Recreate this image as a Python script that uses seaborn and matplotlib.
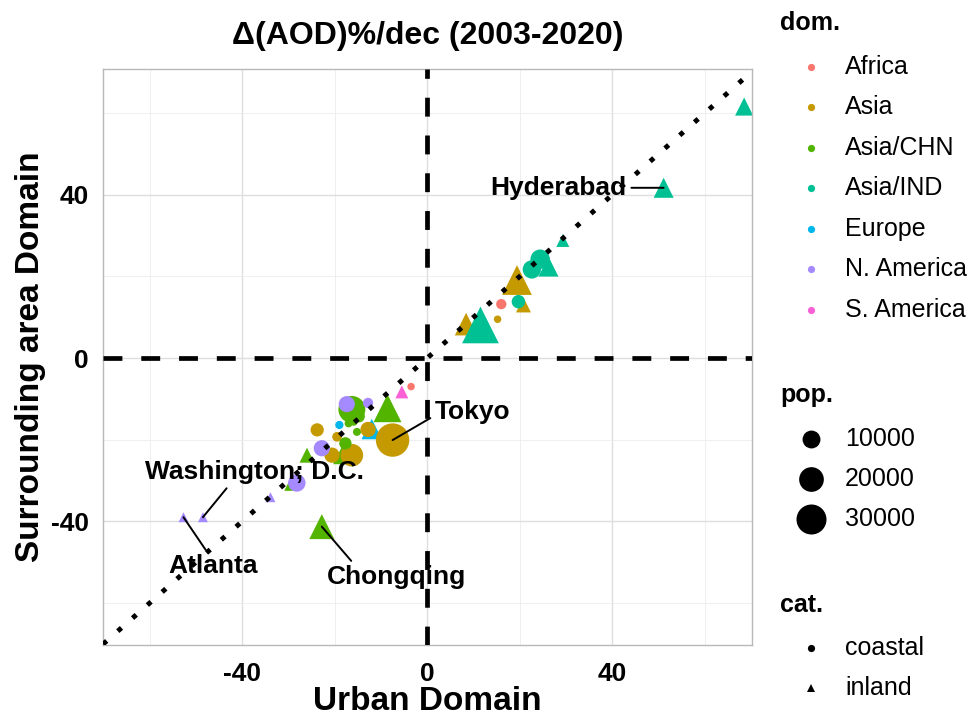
import numpy as np
import pandas as pd
import matplotlib
matplotlib.use("Agg")
import matplotlib.pyplot as plt
import seaborn as sns
from matplotlib.lines import Line2D

# ---------------- data ----------------
# coastal cities (circles)
c_urban = [-16.3, -20.6, -22.8, -23.8, -16.3, -17.4, -12.8, -14.8, -19.0, -17.0,
           -15.9, -15.2, -12.8, -19.5, -17.7, -7.5, -3.5, -28.2, 24.4, 22.6,
           19.7, 16.0, 15.2]
c_surr = [-23.8, -23.8, -22.1, -17.6, -12.6, -11.3, -11.0, -14.3, -16.4, -16.0,
          -15.6, -18.1, -17.5, -19.3, -20.9, -20.1, -7.0, -30.6, 24.2, 21.7,
          13.8, 13.2, 9.5]
c_dom = ["Asia", "Asia", "N. America", "Asia", "Asia/CHN", "N. America", "N. America",
         "Asia/CHN", "Europe", "Asia/CHN", "Asia/CHN", "Asia/CHN", "Asia", "Asia",
         "Asia/CHN", "Asia", "Africa", "N. America", "Asia/IND", "Asia/IND",
         "Asia/IND", "Africa", "Asia"]
c_pop = [16500, 7000, 8000, 5000, 24000, 8000, 2600, 4000, 1300, 1200,
         1200, 1200, 7000, 2200, 4200, 37400, 900, 9500, 12000, 10500,
         5200, 2600, 900]
c_city = ["", "", "", "", "", "", "", "", "", "", "", "", "", "", "", "Tokyo",
          "", "", "", "", "", "", ""]

# inland cities (triangles)
t_urban = [8.4, 11.5, 19.4, 20.8, 26.2, 29.3, 51.1, 68.5, -5.5, -8.6,
           -12.0, -18.4, -26.0, -29.3, -33.9, -48.5, -52.7, -22.8]
t_surr = [8.3, 8.1, 19.1, 13.0, 22.4, 28.8, 41.7, 61.6, -8.3, -12.3,
          -17.4, -23.8, -23.8, -30.7, -34.1, -39.0, -39.0, -41.3]
t_dom = ["Asia", "Asia/IND", "Asia", "Asia", "Asia/IND", "Asia/IND", "Asia/IND",
         "Asia/IND", "S. America", "Asia/CHN", "Europe", "Asia/CHN", "Asia/CHN",
         "Asia/CHN", "N. America", "N. America", "N. America", "Asia/CHN"]
t_pop = [10000, 28000, 18000, 3800, 7600, 2600, 7600, 6000, 2600, 15800,
         8000, 6000, 3800, 3800, 1100, 1100, 1100, 12400]
t_city = ["", "", "", "", "", "", "Hyderabad", "", "", "", "", "", "", "", "",
          "Washington; D.C.", "Atlanta", "Chongqing"]

dom_levels = ["Africa", "Asia", "Asia/CHN", "Asia/IND", "Europe", "N. America", "S. America"]
dom_colors = ["#F8766D", "#C49A00", "#53B400", "#00C094", "#00B6EB", "#A58AFF", "#FB61D7"]
pop_breaks = [10000, 20000, 30000]
cat_levels = ["coastal", "inland"]
major_ticks = [-40, 0, 40]
minor_ticks = [-60, -20, 20, 60]

title = "\u0394(AOD)%/dec (2003-2020)"
xlabel = "Urban Domain"
ylabel = "Surrounding area Domain"

# label text positions (data coords, text centre) and segment anchor on the text box
label_pos = {
    "Tokyo": ((9.8, -13.2), (0.0, 0.35)),
    "Hyderabad": ((28.4, 41.7), (1.0, 0.5)),
    "Washington; D.C.": ((-37.4, -27.9), (0.39, 0.0)),
    "Atlanta": ((-46.3, -51.0), (0.45, 1.0)),
    "Chongqing": ((-6.6, -53.7), (0.2, 1.0)),
}

# ---------------- style ----------------
sns.set_style("white")
plt.rcParams["font.family"] = ["Liberation Sans", "DejaVu Sans"]
plt.rcParams["text.color"] = "black"
plt.rcParams["axes.labelcolor"] = "black"
plt.rcParams["xtick.color"] = "black"
plt.rcParams["ytick.color"] = "black"

W, H = 973, 719
fig = plt.figure(figsize=(W / 100, H / 100), dpi=100)
ax = fig.add_axes([103 / W, 1 - 645 / H, 649 / W, 576 / H])

coast = pd.DataFrame({"x": c_urban, "y": c_surr, "dom": c_dom, "pop": c_pop, "city": c_city})
inland = pd.DataFrame({"x": t_urban, "y": t_surr, "dom": t_dom, "pop": t_pop, "city": t_city})
pal = dict(zip(dom_levels, dom_colors))

# area in pt^2 for circles: 0.5184*(30+0.029*pop)
norm = (0, 40000)
circ_sizes = (0.5184 * 30, 0.5184 * (30 + 0.029 * 40000))
tri_sizes = (1.6 * circ_sizes[0], 1.6 * circ_sizes[1])

sns.scatterplot(data=inland, x="x", y="y", hue="dom", hue_order=dom_levels, palette=pal,
                size="pop", sizes=tri_sizes, size_norm=norm, marker="^",
                linewidth=0, edgecolor="none", legend=False, ax=ax, zorder=2)
sns.scatterplot(data=coast, x="x", y="y", hue="dom", hue_order=dom_levels, palette=pal,
                size="pop", sizes=circ_sizes, size_norm=norm, marker="o",
                linewidth=0, edgecolor="none", legend=False, ax=ax, zorder=2)

# reference lines
ax.axline((0, 0), slope=1, color="black", lw=3.55, linestyle=(0, (1, 3)),
          dash_capstyle="butt", zorder=3)
ax.axhline(0, color="black", lw=3.4, linestyle=(0, (4, 4)), zorder=3)
ax.axvline(0, color="black", lw=3.4, linestyle=(0, (4, 4)), zorder=3)

# labels
allpts = pd.concat([coast, inland])
for _, r in allpts[allpts["city"] != ""].iterrows():
    (tx, ty), rp = label_pos[r["city"]]
    ax.annotate(r["city"], xy=(r["x"], r["y"]), xytext=(tx, ty), textcoords="data",
                ha="center", va="center", fontsize=19, fontweight="bold", color="black",
                zorder=5,
                arrowprops=dict(arrowstyle="-", color="black", lw=1.4, relpos=rp,
                                shrinkA=1, shrinkB=0))

# axes
ax.set_xlim(-70.1, 70.2)
ax.set_ylim(-70.3, 70.8)
ax.set_xticks(major_ticks)
ax.set_yticks(major_ticks)
ax.set_xticks(minor_ticks, minor=True)
ax.set_yticks(minor_ticks, minor=True)
ax.set_xticklabels([str(t) for t in major_ticks], fontsize=19, fontweight="bold")
ax.set_yticklabels([str(t) for t in major_ticks], fontsize=19, fontweight="bold")
ax.grid(True, which="major", color="#dedede", lw=1.0, zorder=0)
ax.grid(True, which="minor", color="#ececec", lw=0.6, zorder=0)
ax.set_axisbelow(True)
ax.tick_params(which="major", length=4, width=0.8, color="#b3b3b3", pad=6)
ax.tick_params(which="minor", length=0)
ax.tick_params(axis="x", pad=8)
for s in ax.spines.values():
    s.set_color("#b8b8b8")
    s.set_linewidth(1.0)

ax.set_xlabel(xlabel, fontsize=24, fontweight="bold")
ax.set_ylabel(ylabel, fontsize=24, fontweight="bold")
ax.xaxis.set_label_coords(0.5, (645 - 702) / 576)
ax.xaxis.label.set_va("center")
ax.yaxis.set_label_coords((31 - 103) / 649, 0.5)
ax.yaxis.label.set_va("center")

fig.text(427.5 / W, 1 - 36 / H, title, ha="center", va="center",
         fontsize=23, fontweight="bold")

# ---------------- legends ----------------
def fx(x):
    return x / W

def fy(y):
    return 1 - y / H

def leg_marker(x, y, marker, color, ms):
    fig.add_artist(Line2D([fx(x)], [fy(y)], marker=marker, color=color, markersize=ms,
                          linestyle="none", markeredgewidth=0, transform=fig.transFigure))

# dom.
fig.text(fx(780), fy(23), "dom.", fontsize=18, fontweight="bold", va="center", ha="left")
dom_y = [67, 107, 148, 188, 229, 269, 310]
for lev, col, yy in zip(dom_levels, dom_colors, dom_y):
    leg_marker(811, yy, "o", col, 5.2)
    fig.text(fx(845), fy(yy), lev, fontsize=18, va="center", ha="left")

# pop.
fig.text(fx(780), fy(395), "pop.", fontsize=18, fontweight="bold", va="center", ha="left")
for b, yy in zip(pop_breaks, [439, 479, 519]):
    d_px = np.sqrt(30 + 0.029 * b)
    leg_marker(811, yy, "o", "black", d_px * 0.72)
    fig.text(fx(845), fy(yy), str(b), fontsize=18, va="center", ha="left")

# cat.
fig.text(fx(780), fy(605), "cat.", fontsize=18, fontweight="bold", va="center", ha="left")
for lev, mk, ms, yy in zip(cat_levels, ["o", "^"], [5.2, 6.2], [648, 688]):
    leg_marker(811, yy, mk, "black", ms)
    fig.text(fx(845), fy(yy), lev, fontsize=18, va="center", ha="left")

fig.savefig("out.png", dpi=100)
